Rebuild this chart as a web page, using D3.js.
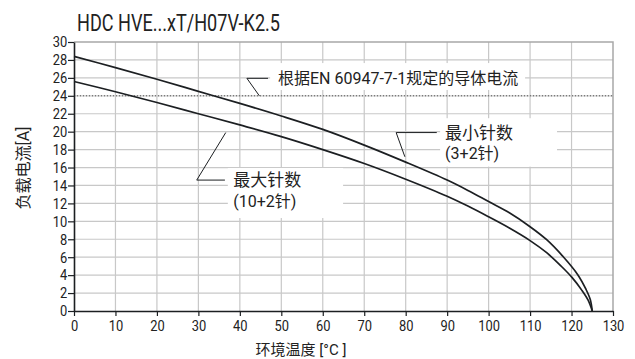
<!DOCTYPE html>
<html>
<head>
<meta charset="utf-8">
<script src="https://cdn.jsdelivr.net/npm/d3@7"></script>
<style>
  body { margin: 0; background: #fff; }
  svg { display: block; }
  text { font-family: Roboto, "Noto Sans CJK SC", sans-serif; fill: #222; }
</style>
</head>
<body>
<div id="chart"></div>
<script>
// derating curves
const tempMin = [0, 10, 20, 30, 40, 50, 60, 70, 80, 90, 95, 100, 105, 110, 114, 118, 121.5, 123.5, 124.5, 125];
const currentMin = [28.4, 27.15, 25.85, 24.5, 23.15, 21.75, 20.25, 18.5, 16.6, 14.6, 13.45, 12.2, 10.95, 9.4, 7.95, 6.05, 4.05, 2.4, 1.3, 0];
const tempMax = [0, 10, 20, 30, 40, 50, 60, 70, 80, 90, 95, 100, 105, 110, 114, 117.5, 120, 122.5, 124, 125];
const currentMax = [25.6, 24.45, 23.25, 22.0, 20.75, 19.45, 18.0, 16.45, 14.7, 12.8, 11.7, 10.5, 9.25, 7.85, 6.5, 5.0, 3.8, 2.3, 1.2, 0];
const refCurrent = 24;
const xTicks = d3.range(0, 131, 10);
const yTicks = d3.range(0, 31, 2);

const title = "HDC HVE...xT/H07V-K2.5";
const xTitle = "环境温度 [°C ]";
const yTitle = "负载电流[A]";

// annotations, positions in data units
const notes = [
  { lines: ["根据EN 60947-7-1规定的导体电流"], size: 16,
    elbow: [41.7, 25.95], end: [46.8, 25.95], tip: [44.7, refCurrent], tx: 49.2,
    box: [47.3, 108.8, 27.65, 24.65] },
  { lines: ["最小针数", "(3+2针)"], size: 17,
    elbow: [77.7, 19.9], end: [87.5, 19.9], tip: [79.8, 17.2], tx: 89.5,
    box: [88.3, 116.5, 21.5, 16.1] },
  { lines: ["最大针数", "(10+2针)"], size: 17,
    elbow: [29.6, 14.6], end: [36.4, 14.6], tip: [36.6, 19.9], tx: 38.4,
    box: [37.1, 64.9, 15.95, 10.37] }
];

const width = 635, height = 359;
const margin = { top: 42, right: 22, bottom: 48, left: 74 };

const svg = d3.select("#chart").append("svg")
  .attr("width", width)
  .attr("height", height);

const x = d3.scaleLinear().domain([0, 130]).range([margin.left, width - margin.right]);
const y = d3.scaleLinear().domain([0, 30]).range([height - margin.bottom, margin.top]);

// grid
svg.append("g").selectAll("line")
  .data(xTicks.slice(1, -1))
  .join("line")
  .attr("x1", d => x(d)).attr("x2", d => x(d))
  .attr("y1", y(0)).attr("y2", y(30))
  .attr("stroke", "#c8c8c8").attr("stroke-width", 1.2);

svg.append("g").selectAll("line")
  .data(yTicks.slice(1, -1))
  .join("line")
  .attr("x1", x(0)).attr("x2", x(130))
  .attr("y1", d => y(d)).attr("y2", d => y(d))
  .attr("stroke", "#c8c8c8").attr("stroke-width", 1.2);

// top and right frame
svg.append("path")
  .attr("d", `M${x(0)},${y(30)}H${x(130)}V${y(0)}`)
  .attr("fill", "none")
  .attr("stroke", "#a8a8a8")
  .attr("stroke-width", 1.5);

// white boxes behind annotation text
svg.append("g").selectAll("rect")
  .data(notes)
  .join("rect")
  .attr("x", d => x(d.box[0]))
  .attr("y", d => y(d.box[2]))
  .attr("width", d => x(d.box[1]) - x(d.box[0]))
  .attr("height", d => y(d.box[3]) - y(d.box[2]))
  .attr("fill", "#fff");

// reference current
svg.append("line")
  .attr("x1", x(0)).attr("x2", x(130))
  .attr("y1", y(refCurrent)).attr("y2", y(refCurrent))
  .attr("stroke", "#555")
  .attr("stroke-width", 1)
  .attr("stroke-dasharray", "1,2");

// curves
const line = d3.line()
  .x(d => x(d[0]))
  .y(d => y(d[1]))
  .curve(d3.curveCatmullRom.alpha(0.5));

[[tempMin, currentMin], [tempMax, currentMax]].forEach(([t, c]) => {
  svg.append("path")
    .datum(t.map((v, i) => [v, c[i]]))
    .attr("fill", "none")
    .attr("stroke", "#1c1f22")
    .attr("stroke-width", 1.7)
    .attr("d", line);
});

// axes
const yAxis = svg.append("g")
  .attr("transform", `translate(${x(0)},0)`)
  .call(d3.axisLeft(y).tickValues(yTicks).tickSize(6).tickPadding(2).tickSizeOuter(0));
const xAxis = svg.append("g")
  .attr("transform", `translate(0,${y(0)})`)
  .call(d3.axisBottom(x).tickValues(xTicks).tickSize(5).tickPadding(4).tickSizeOuter(0));

[yAxis, xAxis].forEach(g => {
  g.select(".domain").attr("stroke", "#1c1f22").attr("stroke-width", 1.6);
  g.selectAll(".tick line").attr("stroke", "#1c1f22").attr("stroke-width", 1.2);
  g.selectAll(".tick text")
    .attr("fill", "#222")
    .attr("transform", "scale(0.86,1)")
    .style("font-family", "Roboto, sans-serif")
    .style("font-size", "15px");
});

// leaders and notes
notes.forEach(n => {
  svg.append("path")
    .attr("d", `M${x(n.end[0])},${y(n.end[1])}L${x(n.elbow[0])},${y(n.elbow[1])}L${x(n.tip[0])},${y(n.tip[1])}`)
    .attr("fill", "none")
    .attr("stroke", "#1c1f22")
    .attr("stroke-width", 1);

  const t = svg.append("text")
    .attr("x", x(n.tx))
    .attr("y", y(n.elbow[1]))
    .style("font-size", n.size + "px");
  n.lines.forEach((s, i) => {
    t.append("tspan")
      .attr("x", x(n.tx))
      .attr("dy", i === 0 ? "0.35em" : "1.3em")
      .style("font-size", i === 0 ? n.size + "px" : (n.size - 1) + "px")
      .text(s);
  });
});

// titles
svg.append("text")
  .attr("x", 77)
  .attr("y", 31)
  .attr("textLength", 203)
  .attr("lengthAdjust", "spacingAndGlyphs")
  .style("font-size", "23px")
  .text(title);

svg.append("text")
  .attr("x", 301)
  .attr("y", 355)
  .attr("text-anchor", "middle")
  .style("font-size", "15px")
  .text(xTitle);

svg.append("text")
  .attr("transform", `translate(29,168) rotate(-90)`)
  .attr("text-anchor", "middle")
  .style("font-size", "16px")
  .text(yTitle);
</script>
</body>
</html>
